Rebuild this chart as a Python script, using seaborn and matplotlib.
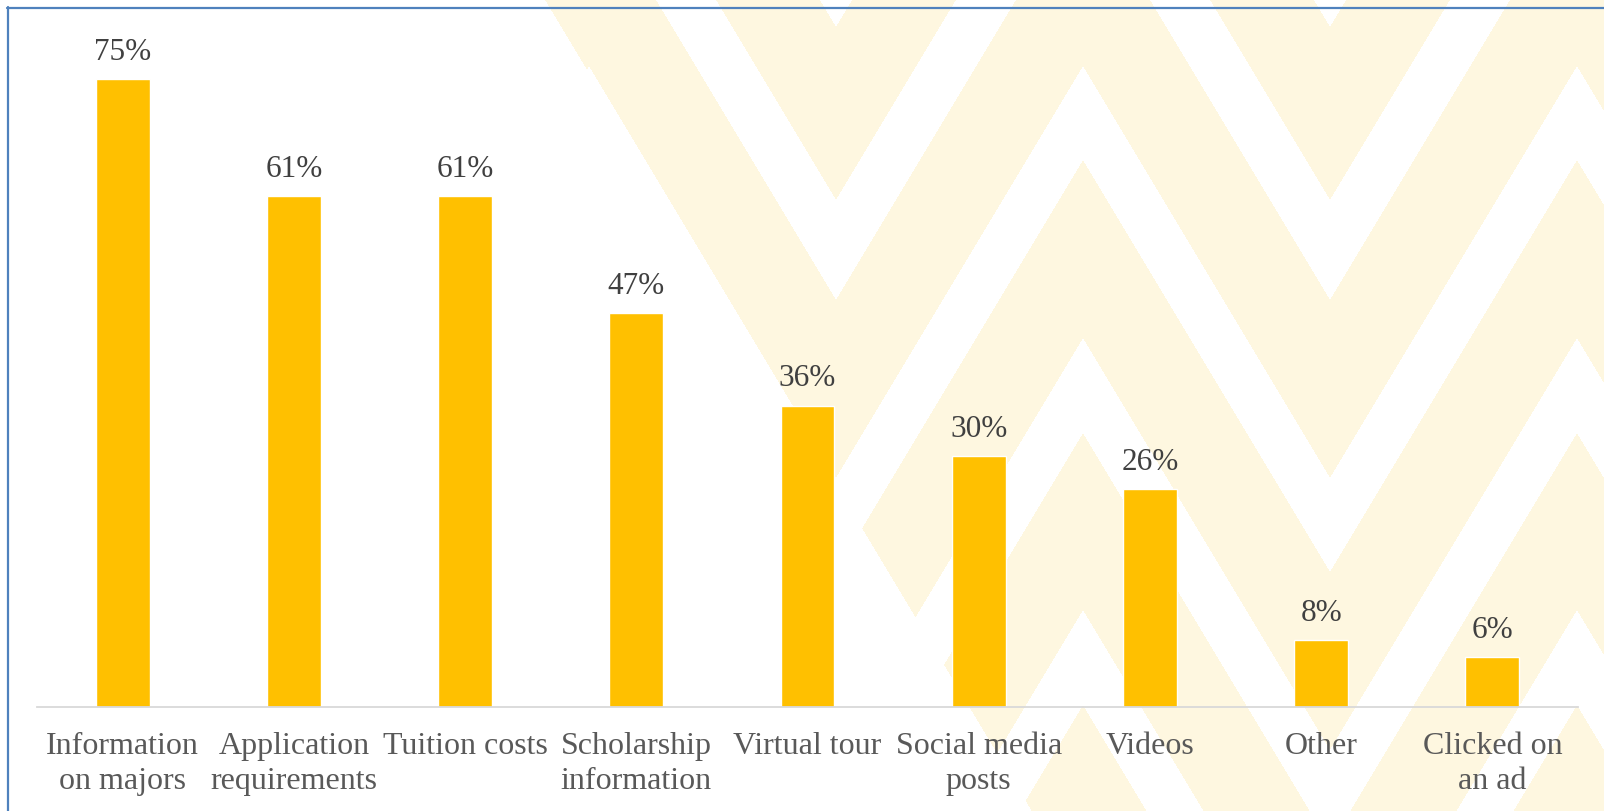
import numpy as np
import pandas as pd
import seaborn as sns
import matplotlib.pyplot as plt
from matplotlib.lines import Line2D

categories = ["Information\non majors", "Application\nrequirements", "Tuition costs",
              "Scholarship\ninformation", "Virtual tour", "Social media\nposts",
              "Videos", "Other", "Clicked on\nan ad"]
values = [75, 61, 61, 47, 36, 30, 26, 8, 6]

bar_color = "#FFC000"
df = pd.DataFrame({"item": categories, "pct": values})

sns.set_theme(style="white")
plt.rcParams['font.family'] = ['Liberation Serif', 'DejaVu Serif']

W, H = 1604, 811
fig = plt.figure(figsize=(W / 100, H / 100), dpi=100)
fig.patch.set_facecolor("white")

# faint chevron watermark behind the chart
bg = fig.add_axes([0, 0, 1, 1], zorder=0)
yy, xx = np.mgrid[0:H, 0:W] + 0.5
centre = 836 + 494 * np.round((xx - 836) / 494)
a = yy + np.abs(xx - centre) / 0.6
edges = [27, 200, 300, 478, 572, 750, 845, 1022, 1117, 1295, 1390, 1568]
band = np.digitize(a, edges)
yellow = (band % 2 == 1) & (xx > 545 + 0.6 * yy)
img = np.ones((H, W, 3))
img[yellow] = np.array([254, 247, 224]) / 255
bg.imshow(img, extent=(0, W, H, 0), aspect="auto", interpolation="nearest")
bg.set_xlim(0, W)
bg.set_ylim(H, 0)
bg.axis("off")
# blue frame (top and left edges visible)
bg.add_line(Line2D([7, W], [7.5, 7.5], color="#4F81BD", lw=1.6))
bg.add_line(Line2D([7.5, 7.5], [7, H], color="#4F81BD", lw=1.6))

ax = fig.add_axes([37 / W, 1 - 707 / H, 1541 / W, 670 / H], zorder=1)
ax.patch.set_alpha(0)
sns.barplot(data=df, x="item", y="pct", color=bar_color, saturation=1,
            width=0.315, ax=ax)
ax.set_xlim(-0.5, len(categories) - 0.5)
ax.set_ylim(0, 80)
ax.set_yticks([])
ax.set_xlabel("")
ax.set_ylabel("")
for s in ["left", "right", "top"]:
    ax.spines[s].set_visible(False)
ax.spines["bottom"].set_color("#D9D9D9")
ax.spines["bottom"].set_linewidth(1.3)
ax.set_xticks(range(len(categories)))
ax.set_xticklabels(categories, fontsize=23, color="#595959", linespacing=1.27)
ax.tick_params(axis="x", length=0, pad=18.3)

for i, v in enumerate(values):
    ax.annotate(f"{v}%", (i, v), xytext=(0, 13.7), textcoords="offset points",
                ha="center", va="baseline", fontsize=22.5, color="#404040")

fig.savefig("out.png", dpi=100)
